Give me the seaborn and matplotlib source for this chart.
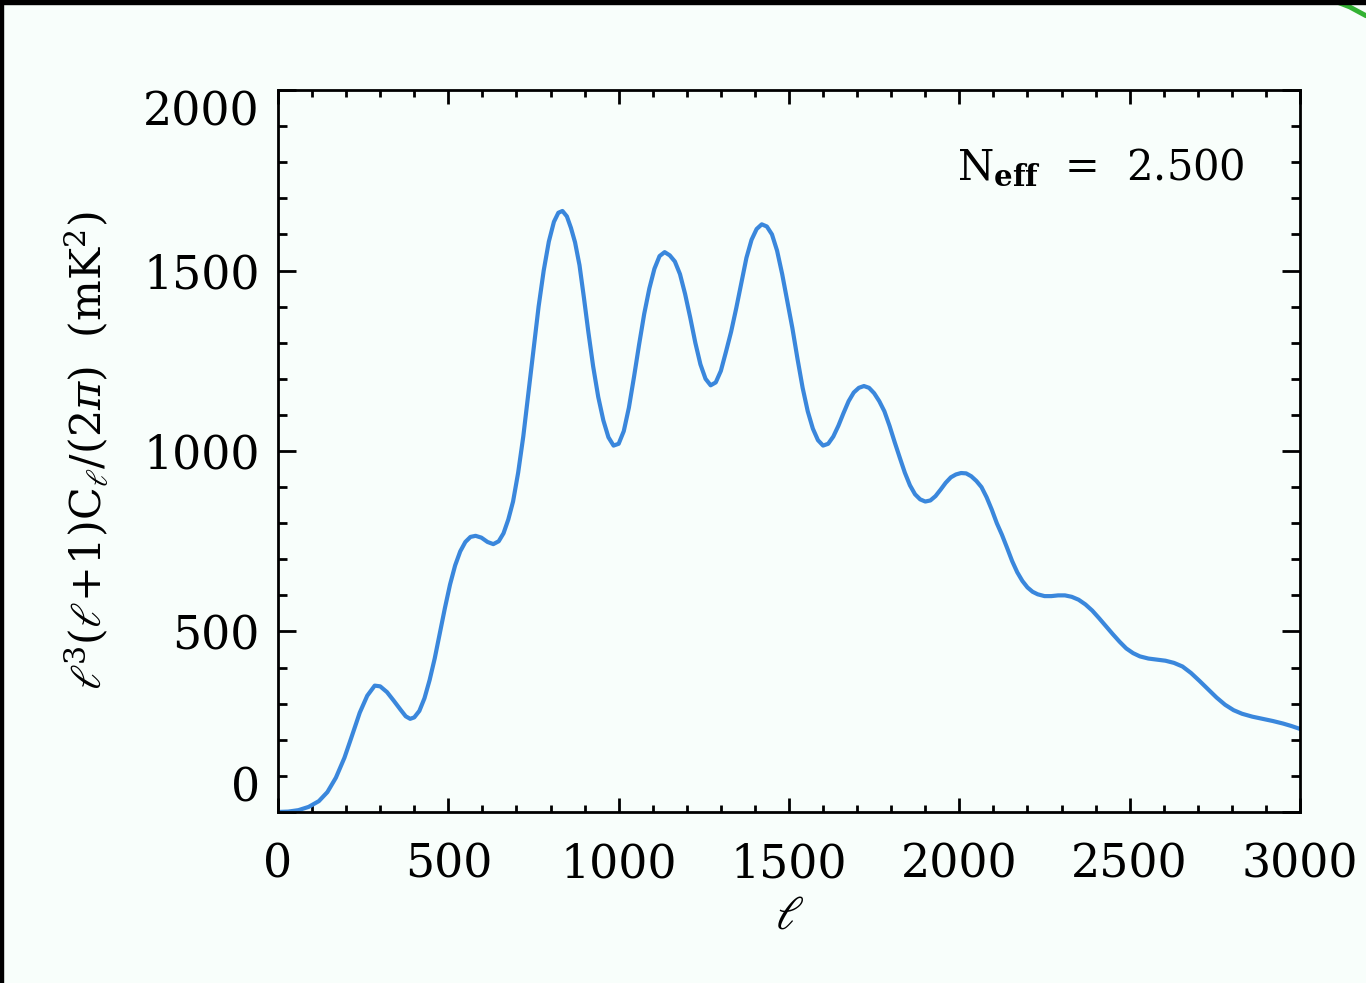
import matplotlib
matplotlib.use('Agg')
import matplotlib.pyplot as plt
import seaborn as sns
import pandas as pd
from matplotlib.patches import Rectangle
from matplotlib.lines import Line2D

# multipole ell and l^3(l+1)C_l/(2pi) (mK^2)
ell = [0, 30, 60, 90, 120, 145, 170, 195, 215, 240, 262, 284, 300, 320, 340,
       360, 375, 388, 400, 415, 430, 445, 460, 475, 490, 505, 520, 535, 550,
       565, 580, 597, 615, 632, 648, 662, 676, 690, 705, 720, 735, 750, 765,
       780, 795, 810, 823, 835, 848, 860, 872, 885, 898, 911, 925, 940, 955,
       970, 985, 1000, 1015, 1030, 1045, 1060, 1075, 1090, 1105, 1120, 1135,
       1150, 1165, 1180, 1195, 1210, 1225, 1240, 1255, 1270, 1285, 1300, 1315,
       1330, 1345, 1360, 1375, 1390, 1405, 1420, 1435, 1450, 1465, 1480, 1495,
       1510, 1525, 1540, 1555, 1570, 1585, 1600, 1615, 1630, 1645, 1660, 1675,
       1690, 1705, 1720, 1735, 1750, 1765, 1780, 1795, 1810, 1825, 1840, 1855,
       1870, 1885, 1900, 1915, 1930, 1945, 1960, 1975, 1990, 2005, 2020, 2035,
       2050, 2065, 2080, 2095, 2110, 2125, 2140, 2155, 2170, 2185, 2200, 2215,
       2230, 2250, 2270, 2290, 2310, 2330, 2350, 2370, 2390, 2410, 2430, 2450,
       2470, 2490, 2510, 2530, 2555, 2580, 2605, 2630, 2655, 2680, 2705, 2730,
       2755, 2780, 2805, 2830, 2860, 2890, 2920, 2950, 2975, 3000]
dl = [0, 1, 5, 14, 30, 55, 95, 150, 205, 275, 322, 350, 348, 332, 308,
      283, 265, 258, 262, 280, 315, 365, 425, 495, 565, 630, 683, 722, 748,
      762, 765, 760, 748, 742, 750, 772, 810, 860, 940, 1040, 1160, 1280, 1400,
      1500, 1580, 1635, 1660, 1665, 1650, 1618, 1578, 1515, 1425, 1330, 1235, 1150, 1085,
      1038, 1015, 1020, 1055, 1120, 1205, 1295, 1380, 1450, 1505, 1540, 1551,
      1542, 1525, 1490, 1435, 1370, 1300, 1240, 1200, 1182, 1190, 1222, 1275,
      1330, 1395, 1465, 1535, 1585, 1615, 1628, 1622, 1600, 1555, 1490, 1415,
      1340, 1255, 1175, 1110, 1062, 1030, 1015, 1020, 1040, 1070, 1105, 1138,
      1162, 1175, 1180, 1175, 1160, 1138, 1110, 1070, 1025, 982, 940, 905,
      880, 866, 860, 863, 875, 893, 912, 927, 935, 939, 938, 930,
      917, 900, 872, 838, 800, 768, 732, 695, 664, 640, 622, 610,
      603, 598, 598, 600, 600, 596, 588, 575, 558, 537, 515, 493,
      472, 453, 440, 431, 425, 422, 419, 413, 403, 385, 363, 340,
      317, 297, 282, 272, 264, 258, 252, 245, 238, 230]

xticks = [0, 500, 1000, 1500, 2000, 2500, 3000]
yticks = [0, 500, 1000, 1500, 2000]
neff_label = r'N$_{\mathbf{eff}}$  =  2.500'

df = pd.DataFrame({'ell': ell, 'dl': dl})

sns.set_theme(style='ticks')
plt.rcParams['font.family'] = ['DejaVu Serif']
plt.rcParams['mathtext.fontset'] = 'dejavuserif'

bg = '#f8fefb'
fig = plt.figure(figsize=(13.66, 9.83), dpi=100, facecolor=bg)
ax = fig.add_axes([0.2035, 0.174, 0.7482, 0.7344])
ax.set_facecolor(bg)

sns.lineplot(data=df, x='ell', y='dl', color='#3a87dc', linewidth=3.0, ax=ax)

ax.set_xlim(0, 3000)
ax.set_ylim(0, 2000)
ax.set_xticks(xticks)
ax.set_yticks(yticks)
ax.set_xticks(range(0, 3001, 100), minor=True)
ax.set_yticks(range(0, 2001, 100), minor=True)

for s in ax.spines.values():
    s.set_linewidth(2.0)
    s.set_color('black')
    s.set_visible(True)

ax.tick_params(axis='both', which='both', direction='in', top=True, right=True,
               width=2.0, color='black', labelsize=33, labelcolor='black')
ax.tick_params(axis='x', which='major', length=10, pad=22)
ax.tick_params(axis='x', which='minor', length=5)
ax.tick_params(axis='y', which='major', length=13, pad=13)
ax.tick_params(axis='y', which='minor', length=6.5)

# end labels sit inside the axis range, like the original
ylabs = ax.get_yticklabels()
ylabs[0].set_va('bottom')
ylabs[-1].set_va('top')

ax.set_xlabel(r'$\ell$', fontsize=34, labelpad=4, color='black')
ax.set_ylabel(r'$\ell^3(\ell\!+\!1)\mathrm{C}_\ell/(2\pi)$  (mK$^2$)',
              fontsize=31, labelpad=24, color='black')

ax.text(0.946, 0.893, neff_label, transform=ax.transAxes, ha='right',
        va='center', fontsize=30, color='black')

# frame bits of the screenshot
fig.patches.append(Rectangle((0, 0.996), 1, 0.004, transform=fig.transFigure,
                             color='black', zorder=10))
fig.patches.append(Rectangle((0, 0), 0.0022, 1, transform=fig.transFigure,
                             color='black', zorder=10))
fig.lines.append(Line2D([0.975, 0.988, 1.0], [1.0, 0.993, 0.984],
                        transform=fig.transFigure, color='#33b233', lw=3.5))

fig.savefig('out.png', dpi=100, facecolor=bg)
